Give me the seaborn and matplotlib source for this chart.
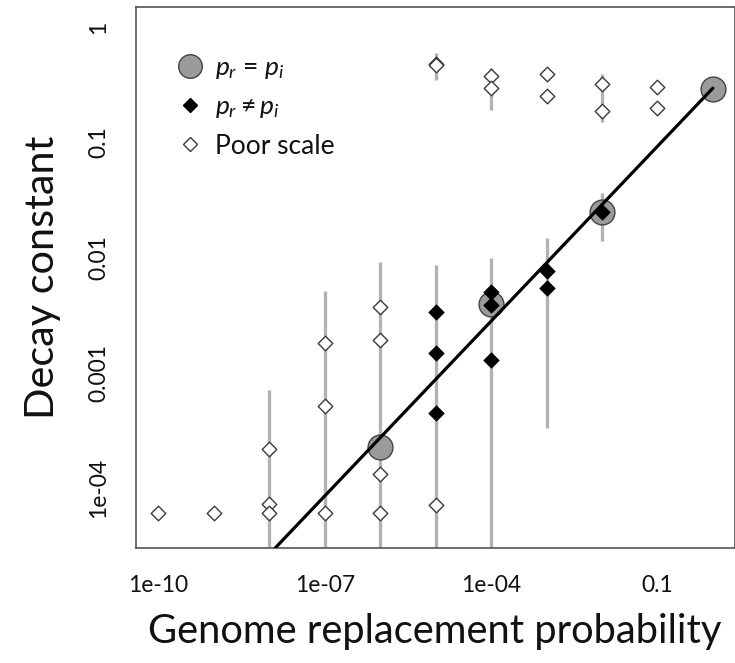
import numpy as np
import pandas as pd
import matplotlib
matplotlib.use("Agg")
import matplotlib.pyplot as plt
from matplotlib.lines import Line2D
from matplotlib.ticker import FixedLocator, FixedFormatter, NullLocator
import seaborn as sns

# ---------------- data ----------------
circ_x = [1e-6, 1e-4, 1e-2, 1.0]
circ_y = [2.29e-4, 3.96e-3, 0.0251, 0.291]

black_x = [1e-5, 1e-5, 1e-5, 1e-4, 1e-4, 1e-4, 1e-3, 1e-3, 1e-2]
black_y = [3.40e-3, 1.50e-3, 4.46e-4, 5.07e-3, 3.88e-3, 1.29e-3, 7.67e-3, 5.42e-3, 0.0248]

poor_x = [1e-10, 1e-9, 1e-8, 1e-8, 1e-8, 1e-7, 1e-7, 1e-7,
          1e-6, 1e-6, 1e-6, 1e-6, 1e-5, 1e-5, 1e-5,
          1e-4, 1e-4, 1e-3, 1e-3, 1e-2, 1e-2, 1e-1, 1e-1]
poor_y = [6.04e-5, 6.04e-5, 2.18e-4, 7.28e-5, 6.04e-5, 1.83e-3, 5.16e-4, 6.04e-5,
          3.76e-3, 1.93e-3, 1.33e-4, 6.04e-5, 7.13e-5, 0.477, 0.470,
          0.380, 0.299, 0.391, 0.253, 0.320, 0.189, 0.305, 0.198]

err_x  = [1e-8, 1e-7, 1e-6, 1e-5, 1e-4, 1e-3, 1e-2,
          1e-5, 1e-4, 1e-3, 1e-2, 1e-1, 1e-1]
err_lo = [1e-5, 1e-5, 1e-5, 1e-5, 1e-5, 3.3e-4, 0.0141,
          0.349, 0.191, 0.36, 0.152, 0.29, 0.185]
err_hi = [7.1e-4, 5.17e-3, 9.23e-3, 8.65e-3, 9.88e-3, 0.0147, 0.0365,
          0.594, 0.441, 0.42, 0.391, 0.32, 0.21]

xtick_vals = [1e-10, 1e-7, 1e-4, 1e-1]
xtick_labels = ["1e-10", "1e-07", "1e-04", "0.1"]
ytick_vals = [1e-4, 1e-3, 1e-2, 1e-1, 1.0]
ytick_labels = ["1e-04", "0.001", "0.01", "0.1", "1"]

legend_labels = [r"$p_r$ = $p_i$", r"$p_r \neq p_i$", "Poor scale"]
xlabel = "Genome replacement probability"
ylabel = "Decay constant"

# ---------------- style ----------------
sns.set_style("white")
plt.rcParams["font.family"] = ["Lato", "DejaVu Sans"]
plt.rcParams["mathtext.fontset"] = "custom"
plt.rcParams["mathtext.it"] = "Lato:italic"
plt.rcParams["mathtext.rm"] = "Lato"

W, H = 735, 663
fig = plt.figure(figsize=(W / 100, H / 100), dpi=100)
left, right, bottom, top = 135.7, 734.5, 547.7, 6.7
ax = fig.add_axes([left / W, (H - bottom) / H, (right - left) / W, (bottom - top) / H])

ax.set_xscale("log")
ax.set_yscale("log")
ax.set_xlim(10 ** -10.41, 10 ** 0.39)
ax.set_ylim(10 ** -4.517, 10 ** 0.179)

gray_bar = "#b3b3b3"
ax.vlines(err_x, err_lo, err_hi, colors=gray_bar, linewidth=2.4, zorder=1)

df_circ = pd.DataFrame({"x": circ_x, "y": circ_y})
df_black = pd.DataFrame({"x": black_x, "y": black_y})
df_poor = pd.DataFrame({"x": poor_x, "y": poor_y})

sns.scatterplot(data=df_circ, x="x", y="y", ax=ax, s=320, marker="o",
                color="#9a9a9a", edgecolor="#444444", linewidth=1.0, zorder=2)

# regression line through the p_r = p_i points (log-log)
slope, intercept = np.polyfit(np.log10(circ_x), np.log10(circ_y), 1)
lx = np.logspace(-10, 0, 50)
ax.plot(lx, 10 ** (intercept + slope * np.log10(lx)), color="black", linewidth=2.3, zorder=3)

sns.scatterplot(data=df_poor, x="x", y="y", ax=ax, s=55, marker="D",
                facecolor="white", edgecolor="#3a3a3a", linewidth=1.0, zorder=4)
sns.scatterplot(data=df_black, x="x", y="y", ax=ax, s=62, marker="D",
                color="black", edgecolor="black", linewidth=0.5, zorder=5)

# axes and ticks
ax.xaxis.set_major_locator(FixedLocator(xtick_vals))
ax.xaxis.set_major_formatter(FixedFormatter(xtick_labels))
ax.yaxis.set_major_locator(FixedLocator(ytick_vals))
ax.yaxis.set_major_formatter(FixedFormatter(ytick_labels))
ax.xaxis.set_minor_locator(NullLocator())
ax.yaxis.set_minor_locator(NullLocator())

for sp in ax.spines.values():
    sp.set_visible(True)
    sp.set_color("#555555")
    sp.set_linewidth(1.2)

ax.tick_params(axis="both", which="major", direction="out", length=7, width=1.1,
               color="#555555", labelsize=16.5, labelcolor="#111111")
ax.tick_params(axis="x", pad=13)
ax.tick_params(axis="y", pad=12)
for lab in ax.get_yticklabels():
    lab.set_rotation(90)
    lab.set_va("center")

ax.set_xlabel(xlabel, fontsize=28.7, color="#111111", labelpad=12)
ax.set_ylabel(ylabel, fontsize=29.8, color="#111111", labelpad=20)

handles = [
    Line2D([], [], linestyle="none", marker="o", markersize=17, markerfacecolor="#9a9a9a",
           markeredgecolor="#444444", markeredgewidth=1.0),
    Line2D([], [], linestyle="none", marker="D", markersize=7.5, markerfacecolor="black",
           markeredgecolor="black"),
    Line2D([], [], linestyle="none", marker="D", markersize=7.5, markerfacecolor="white",
           markeredgecolor="#3a3a3a", markeredgewidth=1.0),
]
leg = ax.legend(handles, legend_labels, loc="upper left", bbox_to_anchor=(0.047, 0.93),
                frameon=False, fontsize=19, handletextpad=0.35, labelspacing=0.5,
                borderaxespad=0.0, handlelength=1.2)
for t in leg.get_texts():
    t.set_color("#111111")

fig.savefig("out.png", dpi=100)
